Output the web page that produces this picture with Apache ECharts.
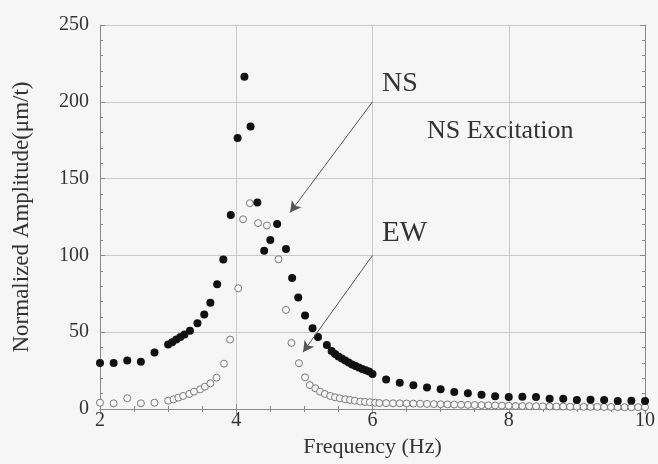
<!DOCTYPE html>
<html>
<head>
<meta charset="utf-8">
<script src="https://cdn.jsdelivr.net/npm/echarts@6/dist/echarts.min.js"></script>
<style>
html,body{margin:0;padding:0;background:#f6f6f6;}
#c{width:658px;height:464px;}
</style>
</head>
<body>
<div id="c"></div>
<script>
// NS (filled circles)
var nsFreq = [2.0,2.2,2.4,2.6,2.8,3.0,3.06,3.12,3.18,3.24,3.32,3.43,3.53,3.62,3.72,3.81,3.92,4.02,4.12,4.21,4.31,4.41,4.50,4.60,4.73,4.82,4.91,5.01,5.12,5.20,5.33,5.40,5.45,5.50,5.55,5.60,5.65,5.70,5.75,5.80,5.85,5.90,5.95,6.00,6.2,6.4,6.6,6.8,7.0,7.2,7.4,7.6,7.8,8.0,8.2,8.4,8.6,8.8,9.0,9.2,9.4,9.6,9.8,10.0];
var nsAmp  = [30,30,31.5,30.8,36.8,42,43.5,45.2,46.8,48.5,51,55.8,61.6,69.2,81.2,97.4,126.3,176.5,216.3,184,134.5,103,110,120.4,104.2,85.3,72.6,60.8,52.5,46.8,41.7,37.8,35.8,34.2,32.8,31.5,30.2,29.0,28.0,27.0,26.0,25.2,24.4,22.8,19.2,17.1,15.5,14.0,12.9,11.0,10.2,9.3,8.3,7.8,8.0,7.8,6.7,6.7,5.9,6.1,5.9,5.2,5.4,5.2];
// EW (open circles)
var ewFreq = [2.0,2.2,2.4,2.6,2.8,3.0,3.08,3.15,3.22,3.31,3.38,3.47,3.54,3.62,3.71,3.82,3.91,4.03,4.10,4.20,4.32,4.45,4.62,4.73,4.81,4.92,5.01,5.08,5.16,5.23,5.30,5.38,5.45,5.52,5.60,5.67,5.74,5.82,5.89,5.96,6.04,6.1,6.2,6.3,6.4,6.5,6.6,6.7,6.8,6.9,7.0,7.1,7.2,7.3,7.4,7.5,7.6,7.7,7.8,7.9,8.0,8.1,8.2,8.3,8.4,8.5,8.6,8.7,8.8,8.9,9.0,9.1,9.2,9.3,9.4,9.5,9.6,9.7,9.8,9.9,10.0];
var ewAmp  = [4.1,3.7,7.0,3.7,4.1,5.4,6.3,7.4,8.5,9.8,11.3,12.8,14.5,16.7,20.4,29.5,45.2,78.6,123.5,134,121,119.5,97.5,64.5,43,29.8,20.6,15.6,13.5,11.3,9.8,8.5,7.6,7.0,6.3,5.9,5.4,4.8,4.6,4.4,4.1,3.9,3.8,3.7,3.7,3.6,3.5,3.4,3.3,3.2,3.1,3.0,2.9,2.8,2.7,2.6,2.5,2.4,2.3,2.2,2.1,2.0,1.9,1.9,1.8,1.7,1.7,1.6,1.6,1.5,1.5,1.4,1.4,1.4,1.3,1.3,1.3,1.2,1.2,1.2,1.2];
var xTicks = [2,4,6,8,10];
var yTicks = [0,50,100,150,200,250];

function pairs(xs, ys){ return xs.map(function(x,i){return [x, ys[i]];}); }

var FONT = 'Liberation Serif';
var chart = echarts.init(document.getElementById('c'));
var gridLine = {show:true, lineStyle:{color:'#c9c9c9', width:1}};
var axisLine = {show:true, lineStyle:{color:'#8a8a8a', width:1}};
var tick = {show:true, inside:true, length:5, lineStyle:{color:'#8a8a8a'}};
chart.setOption({
  backgroundColor:'#f6f6f6',
  animation:false,
  grid:{left:100, right:13, top:25, bottom:55},
  xAxis:[{
    type:'value', min:xTicks[0], max:xTicks[xTicks.length-1], interval:2,
    name:'Frequency (Hz)', nameLocation:'middle', nameGap:34,
    nameTextStyle:{fontFamily:FONT, fontSize:22, color:'#333', verticalAlign:'middle'},
    axisLine:axisLine, splitLine:gridLine, axisTick:tick,
    minorTick:{show:true, splitNumber:4, length:3, lineStyle:{color:'#8a8a8a'}},
    axisLabel:{fontFamily:FONT, fontSize:20, color:'#333', margin:2}
  },{
    type:'value', position:'top', min:2, max:10, interval:2,
    axisLine:axisLine, splitLine:{show:false}, axisTick:tick,
    minorTick:{show:true, splitNumber:4, length:3, lineStyle:{color:'#8a8a8a'}},
    axisLabel:{show:false}
  }],
  yAxis:[{
    type:'value', min:yTicks[0], max:yTicks[yTicks.length-1], interval:50,
    name:'Normalized Amplitude(\u03bcm/t)', nameLocation:'middle', nameGap:78,
    nameTextStyle:{fontFamily:FONT, fontSize:23, color:'#333', verticalAlign:'middle'},
    axisLine:axisLine, splitLine:gridLine, axisTick:tick,
    minorTick:{show:true, splitNumber:5, length:3, lineStyle:{color:'#8a8a8a'}},
    axisLabel:{fontFamily:FONT, fontSize:20, color:'#333', margin:11}
  },{
    type:'value', position:'right', min:0, max:250, interval:50,
    axisLine:axisLine, splitLine:{show:false}, axisTick:tick,
    minorTick:{show:true, splitNumber:5, length:3, lineStyle:{color:'#8a8a8a'}},
    axisLabel:{show:false}
  }],
  series:[{
    name:'EW', type:'scatter', symbol:'circle', symbolSize:7,
    itemStyle:{color:'#f6f6f6', borderColor:'#7a7a7a', borderWidth:1, opacity:1},
    data:pairs(ewFreq, ewAmp), z:2
  },{
    name:'NS', type:'scatter', symbol:'circle', symbolSize:8,
    itemStyle:{color:'#111', opacity:1},
    data:pairs(nsFreq, nsAmp), z:3,
    markLine:{
      silent:true, symbol:['none','arrow'], symbolSize:[9,11],
      lineStyle:{color:'#555', width:1, type:'solid'},
      label:{show:false},
      data:[
        [{coord:[6,200]},{coord:[4.79,128]}],
        [{coord:[6,100]},{coord:[4.98,37]}]
      ]
    }
  }],
  graphic:[
    {type:'text', left:382, top:70, style:{text:'NS', fontFamily:FONT, fontSize:28, fill:'#333'}},
    {type:'text', left:427, top:118, style:{text:'NS Excitation', fontFamily:FONT, fontSize:26, fill:'#333'}},
    {type:'text', left:382, top:219, style:{text:'EW', fontFamily:FONT, fontSize:29, fill:'#333'}}
  ]
});
</script>
</body>
</html>
